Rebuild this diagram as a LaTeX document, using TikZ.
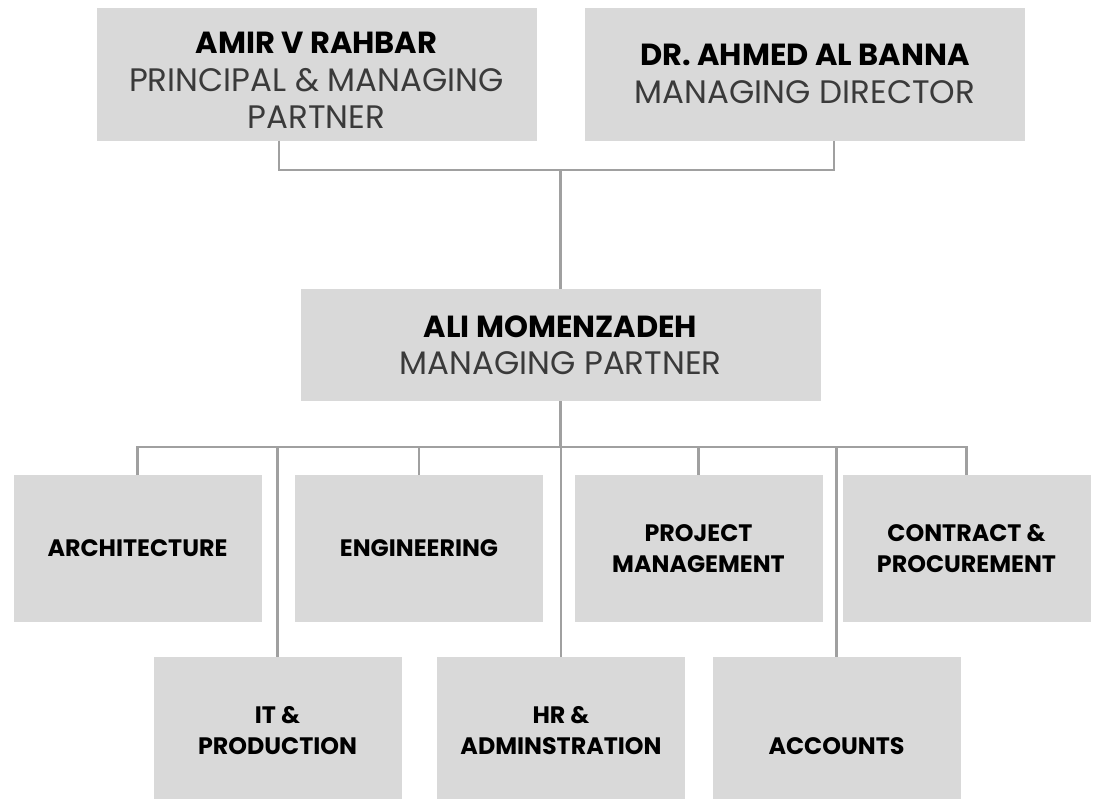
\documentclass[tikz,border=0pt]{standalone}
\usepackage{fontspec}
\setmainfont{Poppins}
\usetikzlibrary{positioning}
\definecolor{boxgray}{HTML}{D9D9D9}
\definecolor{linegray}{HTML}{A0A0A0}
\definecolor{subgray}{HTML}{3A3A3A}
\tikzstyle{box} = [rectangle, fill=boxgray, inner sep=0, align=center]
\tikzstyle{head} = [box, minimum width=440pt, minimum height=133pt, text=subgray, font=\fontsize{32.5}{37.5}\selectfont]
\tikzstyle{dept} = [box, minimum width=248pt, minimum height=147pt, font=\fontsize{23.8}{31}\selectfont\bfseries]
\tikzstyle{conn} = [draw=linegray, line width=2.6pt]
\newcommand{\pname}[1]{{\fontsize{30.5}{37.5}\selectfont\bfseries\color{black}#1}}

\begin{document}
\begin{tikzpicture}[x=1pt, y=-1pt]
	\useasboundingbox (0,0) rectangle (1097,798);

	\node (amir) at (316.5,74) [head] {\rule{0pt}{34pt}\pname{AMIR V RAHBAR}\\ PRINCIPAL \& MANAGING\\ PARTNER};
	\node (banna) at (805,74) [head] {\pname{DR. AHMED AL BANNA}\\ MANAGING DIRECTOR};
	\node (ali) at (560.5,345) [head, minimum width=520pt, minimum height=112pt] {\pname{ALI MOMENZADEH}\\ MANAGING PARTNER};

	\node (arch) at (137.5,548.5) [dept] {ARCHITECTURE};
	\node (eng)  at (419,548.5)   [dept] {ENGINEERING};
	\node (pm)   at (698.5,548.5) [dept] {PROJECT\\ MANAGEMENT};
	\node (cont) at (966.5,548.5) [dept] {CONTRACT \&\\ PROCUREMENT};

	\node (it)  at (277.5,730.5) [dept] {IT \&\\ PRODUCTION};
	\node (hr)  at (561,730.5)   [dept] {HR \&\\ ADMINSTRATION};
	\node (acc) at (836.5,730.5) [dept] {\vphantom{IT \&}\\ ACCOUNTS};

	\coordinate (ta) at (279,170);
	\coordinate (tb) at (834,170);
	\coordinate (tm) at (560.5,170);
	\coordinate (bus) at (560.5,447);

	\draw[conn] (amir.south -| ta) -- (ta) -- (tb) -- (banna.south -| tb);
	\draw[conn] (tm) -- (ali.north);

	\draw[conn] (arch.north) |- (bus) -| (cont.north);
	\draw[conn] (ali.south) -- (bus);
	\foreach \n in {eng, pm, it, hr, acc}
		\draw[conn] (\n.north) -- (\n.north |- bus);
\end{tikzpicture}
\end{document}
